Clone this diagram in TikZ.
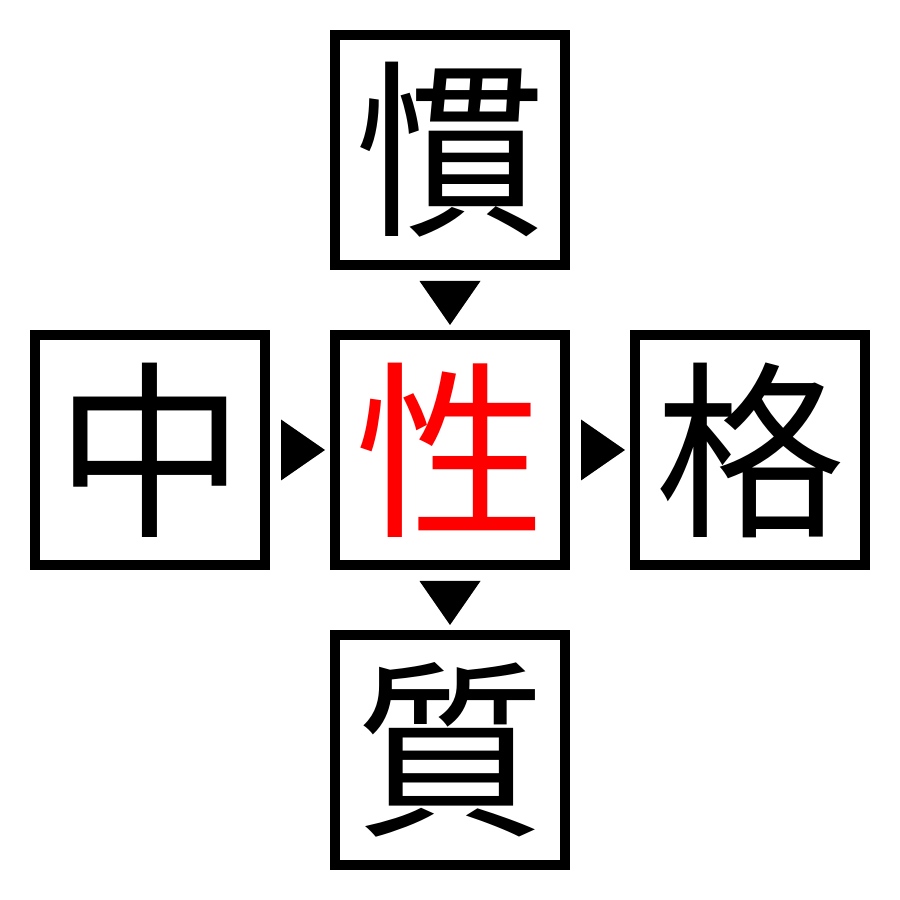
\documentclass[tikz,border=0pt]{standalone}
\usepackage{fontspec}
\newfontfamily\cjk{Noto Sans CJK JP}
\usetikzlibrary{calc}
\tikzset{
  kanjibox/.style={draw=black, line width=0.1cm, minimum size=2.3cm, inner sep=0pt,
    font=\cjk\fontsize{54}{54}\selectfont},
}

\begin{document}
\begin{tikzpicture}
		%%%%% START %%%%%
		\useasboundingbox[fill=white] (0, 0) rectangle (9, 9);

		\node[kanjibox] (top) at (4.5, 7.5) {慣};
		\node[kanjibox] (lft) at (1.5, 4.5) {中};
		\node[kanjibox, text=red] (mid) at (4.5, 4.5) {性};
		\node[kanjibox] (rgt) at (7.5, 4.5) {格};
		\node[kanjibox] (bot) at (4.5, 1.5) {質};

		% pointers between the boxes
		\fill ($(lft.east)+(0.11, 0.305)$) -- ($(lft.east)+(0.11, -0.305)$) -- ($(mid.west)+(-0.05, 0)$) -- cycle;
		\fill ($(mid.east)+(0.11, 0.305)$) -- ($(mid.east)+(0.11, -0.305)$) -- ($(rgt.west)+(-0.05, 0)$) -- cycle;
		\fill ($(top.south)+(-0.305, -0.11)$) -- ($(top.south)+(0.305, -0.11)$) -- ($(mid.north)+(0, 0.05)$) -- cycle;
		\fill ($(mid.south)+(-0.305, -0.11)$) -- ($(mid.south)+(0.305, -0.11)$) -- ($(bot.north)+(0, 0.05)$) -- cycle;

		%%%%% END %%%%%
	\end{tikzpicture}
\end{document}
